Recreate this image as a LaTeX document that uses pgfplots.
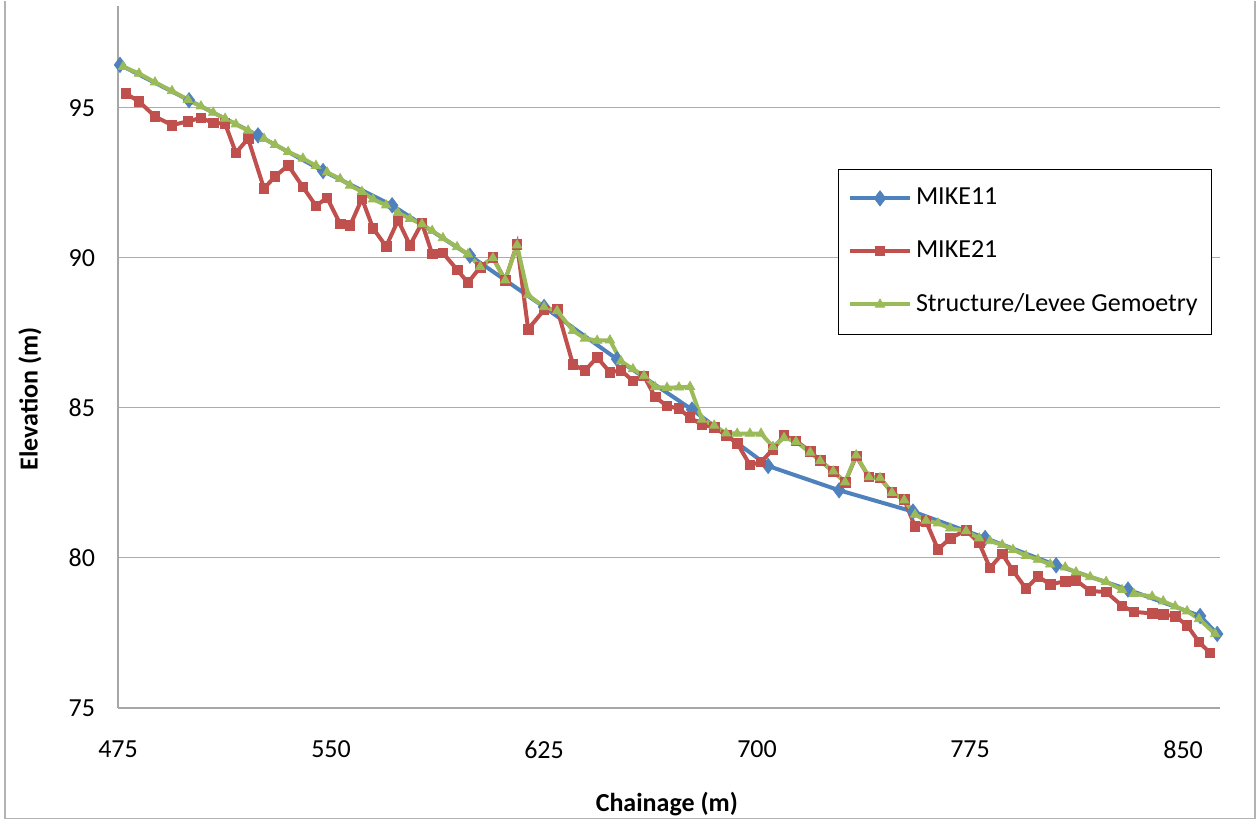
\documentclass[border=0pt]{standalone}
\usepackage{fontspec}
\setmainfont{Carlito}
\usepackage{pgfplots}
\usepackage{pgfplotstable}
\pgfplotsset{compat=1.18}
\definecolor{mikeOne}{HTML}{4F81BD}
\definecolor{mikeTwo}{HTML}{C0504D}
\definecolor{levee}{HTML}{9BBB59}

\pgfplotstableread{
x y
475.7 96.43
500.0 95.25
524.3 94.08
547.2 92.89
571.5 91.75
598.9 90.07
625.0 88.36
650.7 86.62
677.1 84.94
703.9 83.06
728.9 82.25
754.9 81.54
780.3 80.66
805.3 79.75
830.6 78.94
856.0 78.06
862.0 77.46
}\mikeeleven

\pgfplotstableread{
x y
477.8 95.47
482.4 95.21
488.0 94.71
494.0 94.42
499.6 94.55
504.2 94.66
508.5 94.50
512.7 94.47
516.5 93.50
520.8 93.97
526.4 92.31
530.3 92.71
534.9 93.08
540.1 92.36
544.7 91.73
548.6 92.00
553.2 91.13
556.7 91.07
560.9 91.97
564.8 90.98
569.4 90.38
573.6 91.25
577.8 90.42
582.0 91.16
585.6 90.13
589.4 90.16
594.4 89.60
598.2 89.17
602.5 89.68
607.0 90.01
611.3 89.25
615.5 90.45
619.4 87.62
625.0 88.26
629.6 88.30
635.2 86.44
639.4 86.24
643.7 86.68
648.2 86.18
652.1 86.25
656.3 85.89
660.2 86.06
664.1 85.36
668.3 85.06
672.5 84.97
676.4 84.67
680.6 84.44
684.9 84.35
689.1 84.08
693.0 83.82
697.5 83.09
701.4 83.19
705.6 83.62
709.5 84.07
713.7 83.90
718.7 83.54
722.2 83.24
726.8 82.88
731.0 82.52
734.9 83.39
739.4 82.69
743.3 82.66
747.5 82.17
751.8 81.94
755.6 81.04
759.5 81.21
763.7 80.28
768.0 80.65
773.6 80.92
778.2 80.49
782.0 79.66
786.3 80.13
790.1 79.57
794.7 78.97
798.9 79.38
803.2 79.11
808.5 79.22
812.3 79.25
817.3 78.89
822.9 78.86
828.5 78.40
832.7 78.20
839.1 78.14
843.0 78.11
847.2 78.05
851.4 77.75
855.6 77.19
859.5 76.83
}\mikeone

\pgfplotstableread{
x y
476.8 96.37
482.4 96.14
488.0 95.85
494.0 95.56
499.6 95.27
504.2 95.05
508.5 94.84
512.7 94.64
516.5 94.45
520.8 94.24
526.4 93.97
530.3 93.77
534.9 93.53
540.1 93.31
544.7 93.07
548.6 92.85
553.2 92.63
556.7 92.41
560.9 92.20
564.8 91.95
569.4 91.75
573.6 91.50
577.8 91.30
582.0 91.12
585.6 90.90
589.4 90.66
594.4 90.36
598.2 90.12
602.5 89.70
607.0 89.99
611.3 89.25
615.5 90.42
619.4 88.76
625.0 88.36
629.6 88.23
635.2 87.57
639.4 87.31
643.7 87.24
648.2 87.25
652.1 86.55
656.3 86.29
660.2 86.06
664.1 85.69
668.3 85.67
672.5 85.68
676.4 85.70
680.6 84.61
684.9 84.41
689.1 84.15
693.0 84.14
697.5 84.14
701.4 84.14
705.6 83.70
709.5 84.00
713.7 83.87
718.7 83.51
722.2 83.23
726.8 82.88
731.0 82.52
734.9 83.42
739.4 82.69
743.3 82.66
747.5 82.17
751.8 81.92
755.6 81.44
759.5 81.24
763.7 81.15
768.0 80.98
773.6 80.89
778.2 80.65
782.0 80.56
786.3 80.43
790.1 80.27
794.7 80.07
798.9 79.94
803.2 79.78
808.5 79.68
812.3 79.52
817.3 79.36
822.9 79.20
828.5 78.93
832.7 78.80
839.1 78.71
843.0 78.55
847.2 78.38
851.4 78.22
855.6 77.96
861.3 77.46
}\levee

\begin{document}
\fontsize{13}{15.6}\selectfont
\begin{tikzpicture}
  \begin{axis}[
    scale only axis,width=551pt,height=351pt,
    xmin=475,xmax=863,ymin=75,ymax=98.4,clip=false,
    axis x line*=bottom,axis y line*=left,
    axis line style={gray!70,line width=0.8pt},
    xtick={475,550,625,700,775,850},ytick={75,80,85,90,95},
    major tick length=0pt,
    ymajorgrids,grid style={gray!65,line width=0.7pt},
    /pgf/number format/assume math mode=true,
    ticklabel style={font=\fontsize{13}{15.6}\selectfont},
    xticklabel style={yshift=-12pt},
    yticklabel style={xshift=-7pt},
    xlabel={\textbf{Chainage (m)}},
    ylabel={\textbf{Elevation (m)}},
    xlabel style={at={(axis description cs:0.498,-0.137)},anchor=center},
    ylabel style={at={(axis description cs:-0.08,0.44)},anchor=center},
    legend style={at={(rel axis cs:0.653,0.768)},anchor=north west,draw=black,
      inner xsep=5pt,inner ysep=7.5pt,row sep=12pt,cells={anchor=west},
      font=\fontsize{13}{15.6}\selectfont},
    legend image code/.code={\draw[mark repeat=2,mark phase=2] plot coordinates {(0pt,0pt) (15pt,0pt) (30pt,0pt)};},
  ]
    \addplot[mikeOne,line width=2pt,mark=diamond*,mark size=3.8pt,mark options={solid,fill=mikeOne,line width=0.4pt}] table {\mikeeleven};
    \addlegendentry{MIKE11}
    \addplot[mikeTwo,line width=2pt,mark=square*,mark size=2.4pt,mark options={solid,fill=mikeTwo,line width=0.4pt}] table {\mikeone};
    \addlegendentry{MIKE21}
    \addplot[levee,line width=2pt,mark=triangle*,mark size=2.7pt,mark options={solid,fill=levee,line width=0.4pt}] table {\levee};
    \addlegendentry{Structure/Levee Gemoetry}
    \draw[gray!60,line width=0.8pt] (rel axis cs:-0.1025,1.0071) -- (rel axis cs:-0.1025,-0.158) -- (rel axis cs:1.032,-0.158) -- (rel axis cs:1.032,1.0071);
    \path (rel axis cs:-0.1071,-0.1667) rectangle (rel axis cs:1.0363,1.0071);
  \end{axis}
\end{tikzpicture}
\end{document}
